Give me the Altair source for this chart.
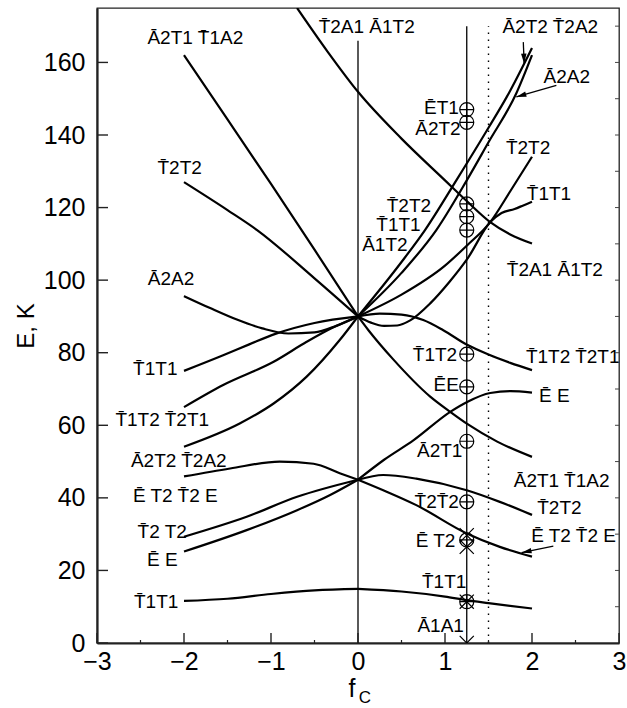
import math
import altair as alt
import pandas as pd

# ---------- plot geometry ----------
W, H = 522, 635
X_DOMAIN = [-3, 3]
Y_DOMAIN = [0, 175]
FONT = "Liberation Sans"

# ---------- tick positions ----------
x_ticks = [-3, -2, -1, 0, 1, 2, 3]
x_minor = [-2.5, -1.5, -0.5, 0.5, 1.5, 2.5]
y_ticks = [0, 20, 40, 60, 80, 100, 120, 140, 160]
y_right = [10, 20, 30, 40, 50, 60, 70, 80, 90, 100, 110, 120, 130, 140, 150, 160, 170]

# ---------- levels for f_C < 0 (upper group meets at 90 K, lower at 45 K) ----------
l_a2t1_x = [-2, -1.5, -1, -0.5, 0]
l_a2t1_y = [162, 144.3, 126.5, 108.4, 90]
l_t2t2_x = [-2, -1.5, -1.16, -0.5, 0]
l_t2t2_y = [127, 119.3, 113.8, 100.5, 90]
l_a2a2_x = [-2, -1.7, -1.4, -1.1, -0.8, -0.5, -0.25, 0]
l_a2a2_y = [95.6, 92.3, 89.2, 86.7, 85.3, 85.6, 87.4, 90]
l_t1t1_x = [-2, -1.55, -1.25, -0.95, -0.5, 0]
l_t1t1_y = [75, 79.3, 82.3, 85.2, 88.2, 90]
l_t1t2_x = [-2, -1.55, -0.97, -0.59, -0.3, 0]
l_t1t2_y = [65, 71.1, 77.5, 83, 86.8, 90]
l_a2t2_x = [-2, -1.36, -0.97, -0.59, -0.21, 0]
l_a2t2_y = [54.1, 60.5, 66, 73.4, 83.5, 90]
l_et2_x = [-2, -1.47, -0.9, -0.51, -0.21, 0]
l_et2_y = [45.9, 48.1, 50, 49.4, 46.8, 45]
l_t2t2b_x = [-2, -1.28, -0.7, 0]
l_t2t2b_y = [29.3, 34.8, 40.3, 45]
l_ee_x = [-2, -1.28, -0.7, -0.32, 0]
l_ee_y = [25.2, 31.1, 36.6, 40.8, 45]
l_t1t1b_x = [-2, -1.5, -1, -0.5, 0]
l_t1t1b_y = [11.6, 12.2, 13.5, 14.5, 14.9]

# ---------- levels for f_C > 0 ----------
r_a2t2_x = [0, 0.5, 0.77, 1.13, 1.5, 1.71, 2]
r_a2t2_y = [90, 105, 113.8, 127.5, 142, 150.5, 164]
r_a2a2_x = [0, 0.5, 0.9, 1.25, 1.5, 1.82, 2]
r_a2a2_y = [90, 102, 113.8, 127.5, 138, 151.5, 162]
r_t2t2_x = [0, 0.5, 1, 1.25, 1.52, 1.75, 2]
r_t2t2_y = [90, 96, 104, 109.5, 116, 124.5, 134]
r_t1t1_x = [0, 0.15, 0.3, 0.45, 0.6, 0.83, 1.05, 1.26, 1.52, 1.65, 1.8, 1.9, 2]
r_t1t1_y = [90, 88.3, 87.4, 87.5, 88.9, 93.6, 99.5, 106, 116, 118.5, 119.6, 120.6, 121.6]
r_t1t2_x = [0, 0.25, 0.5, 0.75, 0.98, 1.26, 1.5, 1.75, 2]
r_t1t2_y = [90, 90.8, 90.5, 89, 86.2, 82.1, 79.5, 77.2, 75.2]
r_a2t1_x = [0, 0.12, 0.4, 0.83, 1.06, 1.26, 1.6, 2]
r_a2t1_y = [90, 86.2, 78.3, 67.9, 63.7, 60.3, 55.5, 51.3]
r_ee_x = [0, 0.3, 0.64, 1.06, 1.26, 1.52, 1.75, 2]
r_ee_y = [45, 50.5, 55.9, 63.7, 66.5, 68.9, 69.4, 69]
r_t2t2b_x = [0, 0.29, 0.67, 1.25, 1.63, 2]
r_t2t2b_y = [45, 46.3, 45.3, 42.1, 38.9, 35.3]
r_et2_x = [0, 0.29, 0.67, 1.25, 1.63, 2]
r_et2_y = [45, 42.1, 38, 30.2, 26.5, 23.8]
r_t1t1b_x = [0, 0.5, 1, 1.25, 1.5, 2]
r_t1t1b_y = [14.9, 14.2, 12.8, 11.8, 11, 9.5]
# level crossing the whole upper group
t2a1_x = [-0.7, -0.35, 0, 0.5, 1, 1.25, 1.52, 1.75, 2]
t2a1_y = [175, 163, 151.9, 139, 127.5, 121.8, 116, 112.6, 110.1]

curve_list = [
    ("l_a2t1", l_a2t1_x, l_a2t1_y), ("l_t2t2", l_t2t2_x, l_t2t2_y),
    ("l_a2a2", l_a2a2_x, l_a2a2_y), ("l_t1t1", l_t1t1_x, l_t1t1_y),
    ("l_t1t2", l_t1t2_x, l_t1t2_y), ("l_a2t2", l_a2t2_x, l_a2t2_y),
    ("l_et2", l_et2_x, l_et2_y), ("l_t2t2b", l_t2t2b_x, l_t2t2b_y),
    ("l_ee", l_ee_x, l_ee_y), ("l_t1t1b", l_t1t1b_x, l_t1t1b_y),
    ("r_a2t2", r_a2t2_x, r_a2t2_y), ("r_a2a2", r_a2a2_x, r_a2a2_y),
    ("r_t2t2", r_t2t2_x, r_t2t2_y), ("r_t1t1", r_t1t1_x, r_t1t1_y),
    ("r_t1t2", r_t1t2_x, r_t1t2_y), ("r_a2t1", r_a2t1_x, r_a2t1_y),
    ("r_ee", r_ee_x, r_ee_y), ("r_t2t2b", r_t2t2b_x, r_t2t2b_y),
    ("r_et2", r_et2_x, r_et2_y), ("r_t1t1b", r_t1t1b_x, r_t1t1b_y),
    ("t2a1", t2a1_x, t2a1_y),
]
curve_df = pd.DataFrame(
    [{"curve": n, "x": xv, "y": yv} for n, xs, ys in curve_list for xv, yv in zip(xs, ys)]
)

# ---------- computed levels at f_C = 1.25 ----------
mark_f = 1.25
oplus_E = [147, 143.5, 121, 117.5, 113.8, 79.6, 70.6, 55.6, 38.9, 28.4, 11.4]
cross_E = [29.7, 26.5, 11.4, 0]

# ---------- vertical guides ----------
guide_x = [0, 1.25]
guide_top = [166, 170]
dotted_x = [1.5]
dotted_top = [170]

# ---------- level labels ----------
TB = "T\u0304"
AB = "\u0100"
EB = "\u0112"
lab_c_text = [f"{AB}2T1 {TB}1A2", f"{TB}2T2", f"{AB}2A2", f"{TB}1T1", f"{TB}1T2 {TB}2T1",
              f"{AB}2T2 {TB}2A2", f"{EB} T2 {TB}2 E", f"{TB}2 T2", f"{EB} E", f"{TB}1T1",
              f"{TB}2A1 {AB}1T2", f"{AB}2T2 {TB}2A2", f"{AB}2A2", f"{TB}1T1", f"{AB}1A1"]
lab_c_x = [-1.87, -2.05, -2.15, -2.33, -2.25, -2.06, -2.1, -2.25, -2.25, -2.32,
           0.1, 2.21, 2.4, 0.99, 0.95]
lab_c_y = [166.6, 130.9, 100.3, 75.6, 61.4, 50.1, 40.5, 30.6, 22.9, 11.4,
           169.8, 169.8, 156, 16.9, 4.7]

lab_r_text = [f"{EB}T1", f"{AB}2T2", f"{TB}2T2", f"{TB}1T1", f"{AB}1T2", f"{TB}1T2",
              f"{EB}E", f"{AB}2T1", f"{TB}2{TB}2", f"{EB} T2"]
lab_r_x = [1.16, 1.18, 0.84, 0.72, 0.57, 1.14, 1.16, 1.2, 1.16, 1.12]
lab_r_y = [147.5, 141.6, 120.5, 115.2, 109.6, 79.3, 71.1, 52.9, 38.9, 28.1]

lab_l_text = [f"{TB}2T2", f"{TB}1T1", f"{TB}2A1 {AB}1T2", f"{TB}1T2 {TB}2T1", f"{EB} E",
              f"{AB}2T1 {TB}1A2", f"{TB}2T2", f"{EB} T2 {TB}2 E"]
lab_l_x = [1.7, 1.94, 1.71, 1.93, 2.08, 1.79, 2.06, 1.99]
lab_l_y = [136.5, 123.7, 102.8, 78.9, 68, 44.6, 37.3, 29.5]

# ---------- arrows (tail -> head) ----------
arr_tx = [1.90, 2.28, 2.245]
arr_ty = [165.6, 153.7, 26.7]
arr_hx = [1.91, 1.82, 1.88]
arr_hy = [159.7, 150.5, 24.9]


def head_angle(tx, ty, hx, hy):
    dx = (hx - tx) * W / (X_DOMAIN[1] - X_DOMAIN[0])
    dy = -(hy - ty) * H / (Y_DOMAIN[1] - Y_DOMAIN[0])
    return math.degrees(math.atan2(dx, -dy)) % 360


arrow_df = pd.DataFrame({
    "tx": arr_tx, "ty": arr_ty, "hx": arr_hx, "hy": arr_hy,
    "ang": [head_angle(*a) for a in zip(arr_tx, arr_ty, arr_hx, arr_hy)],
})

sx = alt.Scale(domain=X_DOMAIN, nice=False, zero=False)
sy = alt.Scale(domain=Y_DOMAIN, nice=False, zero=False)

x_axis = alt.Axis(values=x_ticks, format="d", title=None, ticks=False, grid=False,
                  domainWidth=2.2, domainColor="#222", labelFontSize=25, labelFont=FONT,
                  labelColor="black", labelPadding=6, labelFlush=False)
y_axis = alt.Axis(values=y_ticks, format="d", title="E, K", ticks=False, grid=False,
                  domainWidth=2.2, domainColor="#222", labelFontSize=25, labelFont=FONT,
                  labelColor="black", labelPadding=12, labelFlush=False,
                  titleFont=FONT, titleFontSize=24, titleFontWeight="normal",
                  titleColor="black", titlePadding=5)

curves = alt.Chart(curve_df).mark_line(
    interpolate="monotone", color="black", strokeWidth=2.2, clip=True
).encode(
    x=alt.X("x:Q", scale=sx, axis=x_axis),
    y=alt.Y("y:Q", scale=sy, axis=y_axis),
    detail="curve:N",
)

guides = alt.Chart(pd.DataFrame({"x": guide_x, "y0": [0, 0], "y1": guide_top})).mark_rule(
    color="black", strokeWidth=1.3
).encode(x=alt.X("x:Q", scale=sx), y=alt.Y("y0:Q", scale=sy), y2="y1:Q")

dotted = alt.Chart(pd.DataFrame({"x": dotted_x, "y0": [0], "y1": dotted_top})).mark_rule(
    color="black", strokeWidth=1.4, strokeDash=[1.5, 5.5]
).encode(x=alt.X("x:Q", scale=sx), y=alt.Y("y0:Q", scale=sy), y2="y1:Q")

OPLUS = "M-1,0A1,1,0,1,1,1,0A1,1,0,1,1,-1,0ZM-1,0L1,0M0,-1L0,1"
XMARK = "M-1,-1L1,1M-1,1L1,-1"
HEAD = "M0,0L0.55,2L-0.55,2Z"

oplus = alt.Chart(pd.DataFrame({"x": [mark_f] * len(oplus_E), "y": oplus_E})).mark_point(
    shape=OPLUS, size=196, filled=False, color="black", strokeWidth=1.2, opacity=1
).encode(x=alt.X("x:Q", scale=sx), y=alt.Y("y:Q", scale=sy))

crosses = alt.Chart(pd.DataFrame({"x": [mark_f] * len(cross_E), "y": cross_E})).mark_point(
    shape=XMARK, size=200, filled=False, color="black", strokeWidth=1.2, opacity=1, clip=True
).encode(x=alt.X("x:Q", scale=sx), y=alt.Y("y:Q", scale=sy))

shafts = alt.Chart(arrow_df).mark_rule(color="black", strokeWidth=1.3).encode(
    x=alt.X("tx:Q", scale=sx), y=alt.Y("ty:Q", scale=sy), x2="hx:Q", y2="hy:Q"
)
heads = alt.Chart(arrow_df).mark_point(
    shape=HEAD, size=100, filled=True, color="black", opacity=1
).encode(
    x=alt.X("hx:Q", scale=sx), y=alt.Y("hy:Q", scale=sy), angle=alt.Angle("ang:Q", scale=None)
)


def label_layer(texts, xs, ys, align):
    df = pd.DataFrame({"t": texts, "x": xs, "y": ys})
    return alt.Chart(df).mark_text(
        font=FONT, fontSize=19, align=align, baseline="middle", color="black"
    ).encode(x=alt.X("x:Q", scale=sx), y=alt.Y("y:Q", scale=sy), text="t:N")


labels_c = label_layer(lab_c_text, lab_c_x, lab_c_y, "center")
labels_r = label_layer(lab_r_text, lab_r_x, lab_r_y, "right")
labels_l = label_layer(lab_l_text, lab_l_x, lab_l_y, "left")

# inward tick marks on the frame
ticks_left = alt.Chart(pd.DataFrame({"v": y_ticks})).mark_rule(color="#222", strokeWidth=1.4).encode(
    y=alt.Y("v:Q", scale=sy), x=alt.value(0), x2=alt.value(11))
ticks_right = alt.Chart(pd.DataFrame({"v": y_right})).mark_rule(color="#444", strokeWidth=1).encode(
    y=alt.Y("v:Q", scale=sy), x=alt.value(W), x2=alt.value(W - 4))
ticks_bottom = alt.Chart(pd.DataFrame({"v": x_ticks})).mark_rule(color="#222", strokeWidth=1.4).encode(
    x=alt.X("v:Q", scale=sx), y=alt.value(H), y2=alt.value(H - 10))
ticks_bottom_minor = alt.Chart(pd.DataFrame({"v": x_minor})).mark_rule(color="#222", strokeWidth=1.2).encode(
    x=alt.X("v:Q", scale=sx), y=alt.value(H), y2=alt.value(H - 3))

# x axis title f_C with subscript
xt_df = pd.DataFrame({"x": [0]})
xtitle_f = alt.Chart(xt_df).mark_text(
    font=FONT, fontSize=25, align="center", baseline="middle", color="black", dx=-6
).encode(x=alt.X("x:Q", scale=sx), y=alt.value(H + 46), text=alt.value("f"))
xtitle_c = alt.Chart(xt_df).mark_text(
    font=FONT, fontSize=17, align="center", baseline="middle", color="black", dx=7
).encode(x=alt.X("x:Q", scale=sx), y=alt.value(H + 55), text=alt.value("C"))

chart = alt.layer(
    curves, guides, dotted, oplus, crosses, shafts, heads,
    labels_c, labels_r, labels_l,
    ticks_left, ticks_right, ticks_bottom, ticks_bottom_minor,
    xtitle_f, xtitle_c,
).properties(
    width=W, height=H,
    autosize=alt.AutoSizeParams(type="none"),
    padding={"left": 97, "top": 8, "right": 8, "bottom": 65},
).configure_view(stroke="#222", strokeWidth=1.3)

chart.save("out.html", embed_options={"renderer": "svg", "actions": False})
